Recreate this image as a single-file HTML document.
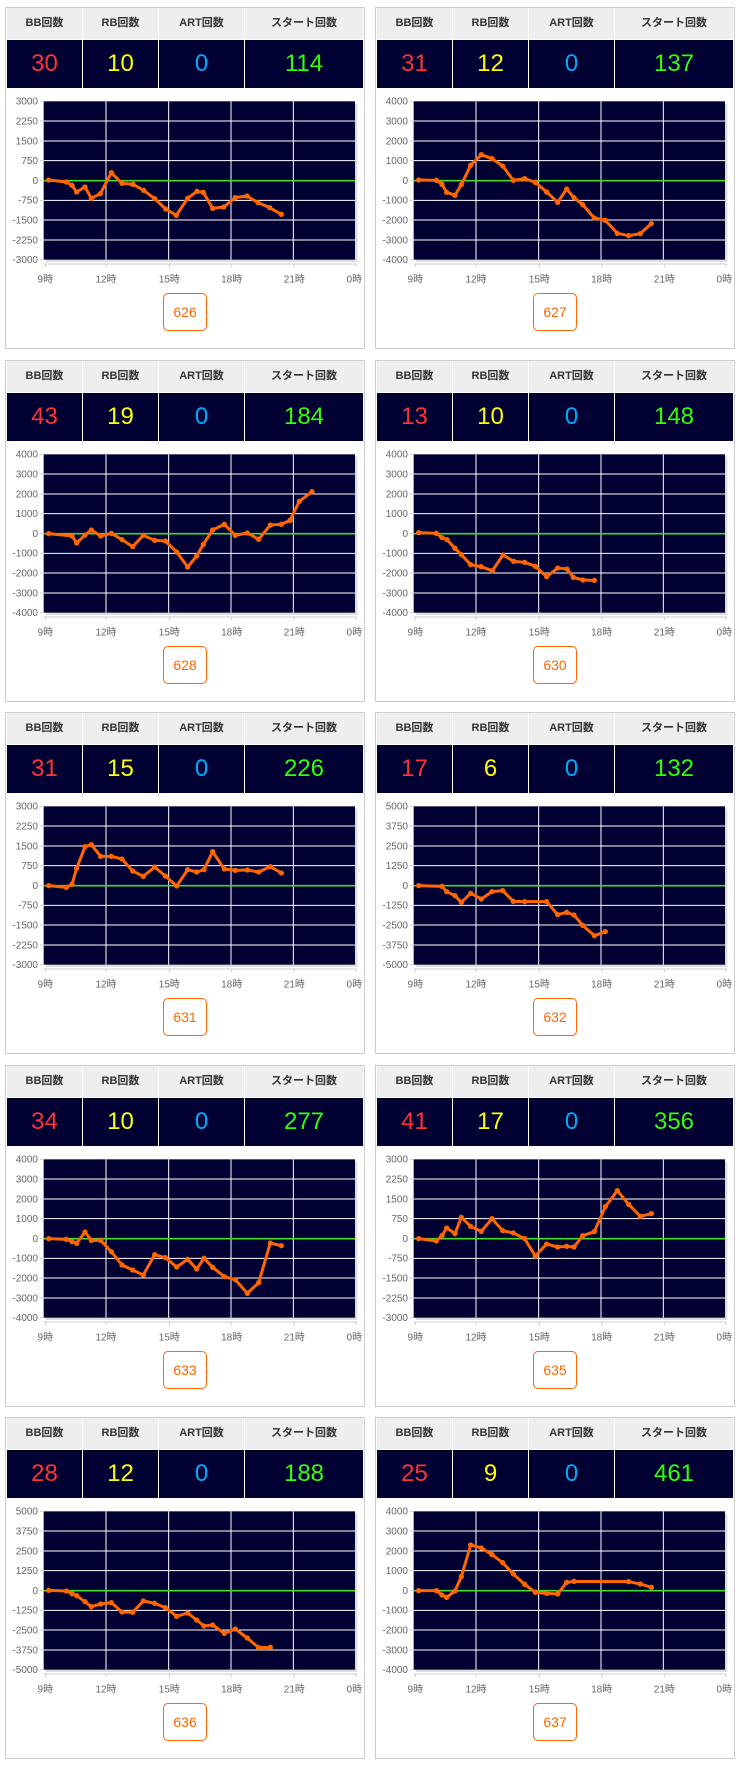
<!DOCTYPE html>
<html><head><meta charset="utf-8">
<style>
body{margin:0;width:740px;height:1770px;background:#fff;position:relative;font-family:"Liberation Sans","Noto Sans CJK JP",sans-serif;overflow:hidden}
.card{position:absolute;width:358px;height:340px;border:1px solid #ccc;background:#fff}
.h,.v{position:absolute;box-sizing:border-box;text-align:center}
.h{top:0;height:31px;line-height:31px;background:#eee;font-size:11px;font-weight:bold;color:#333}
.v{top:32px;height:48px;line-height:48px;background:#000033;font-size:24px}
.c1{left:1px;width:75px}.c2{left:77px;width:75px}.c3{left:153px;width:85px}.c4{left:239px;width:118px}
.r{color:#ff3333}.y{color:#ffff00}.b{color:#00aaff}.g{color:#33ff00}
svg.ch{position:absolute;left:0;top:78px;overflow:visible}
.btn{position:absolute;left:157px;top:285px;width:42px;height:36px;border:1px solid #ff6600;border-radius:5px;color:#ff6600;font-size:14px;line-height:36px;text-align:center}
text{font-family:"Liberation Sans","Noto Sans CJK JP",sans-serif;font-size:30px;fill:#666}
.yl text{text-anchor:end}
.xl text{text-anchor:middle}
.pl{fill:none;stroke:#ff6600;stroke-width:9;stroke-linejoin:round;marker-start:url(#m);marker-mid:url(#m);marker-end:url(#m)}
.gr{stroke:#fff;stroke-width:3;fill:none}
</style></head><body>
<svg width="0" height="0" style="position:absolute"><defs><marker id="m" markerUnits="userSpaceOnUse" markerWidth="20" markerHeight="20" refX="10" refY="10"><circle cx="10" cy="10" r="8" fill="#ff6600"/></marker></defs></svg>

<!-- 626 -->
<div class="card" style="left:5px;top:7px">
<div class="h c1">BB回数</div><div class="h c2">RB回数</div><div class="h c3">ART回数</div><div class="h c4">スタート回数</div>
<div class="v c1 r">30</div><div class="v c2 y">10</div><div class="v c3 b">0</div><div class="v c4 g">114</div>
<svg class="ch" width="360" height="200" viewBox="0 -21 1080 600">
<rect x="120" y="32" width="934" height="475" fill="#ddd"/><rect x="113" y="25" width="934" height="475" fill="#000033"/>
<path class="gr" d="M113 84H1047M113 144H1047M113 203H1047M113 322H1047M113 381H1047M113 441H1047M300 25V500M488 25V500M675 25V500M862 25V500"/>
<line x1="113" y1="263" x2="1047" y2="263" stroke="#44dd22" stroke-width="5"/>
<path d="M113 513H1052M118 513V522M300 513V522M490 513V522M677 513V522M865 513V522M1050 513V522M102 25H110M102 84H110M102 144H110M102 203H110M102 263H110M102 322H110M102 381H110M102 441H110M102 500H110" stroke="#ccc" stroke-width="3"/>
<g class="yl"><text x="96" y="35">3000</text><text x="96" y="94">2250</text><text x="96" y="154">1500</text><text x="96" y="213">750</text><text x="96" y="273">0</text><text x="96" y="332">-750</text><text x="96" y="391">-1500</text><text x="96" y="451">-2250</text><text x="96" y="510">-3000</text></g>
<g class="xl"><text x="118" y="568">9時</text><text x="300" y="568">12時</text><text x="490" y="568">15時</text><text x="677" y="568">18時</text><text x="865" y="568">21時</text><text x="1045" y="568">0時</text></g>
<polyline class="pl" points="128,261 181,267 198,277 212,297 237,282 256,316 283,302 316,239 348,271 381,274 413,292 446,317 479,348 511,367 545,316 573,295 592,298 620,346 653,342 688,314 723,309 756,329 791,344 826,364"/>
</svg>
<div class="btn">626</div></div>

<!-- 627 -->
<div class="card" style="left:375px;top:7px">
<div class="h c1">BB回数</div><div class="h c2">RB回数</div><div class="h c3">ART回数</div><div class="h c4">スタート回数</div>
<div class="v c1 r">31</div><div class="v c2 y">12</div><div class="v c3 b">0</div><div class="v c4 g">137</div>
<svg class="ch" width="360" height="200" viewBox="0 -21 1080 600">
<rect x="120" y="32" width="934" height="475" fill="#ddd"/><rect x="113" y="25" width="934" height="475" fill="#000033"/>
<path class="gr" d="M113 84H1047M113 144H1047M113 203H1047M113 322H1047M113 381H1047M113 441H1047M300 25V500M488 25V500M675 25V500M862 25V500"/>
<line x1="113" y1="263" x2="1047" y2="263" stroke="#44dd22" stroke-width="5"/>
<path d="M113 513H1052M118 513V522M300 513V522M490 513V522M677 513V522M865 513V522M1050 513V522M102 25H110M102 84H110M102 144H110M102 203H110M102 263H110M102 322H110M102 381H110M102 441H110M102 500H110" stroke="#ccc" stroke-width="3"/>
<g class="yl"><text x="96" y="35">4000</text><text x="96" y="94">3000</text><text x="96" y="154">2000</text><text x="96" y="213">1000</text><text x="96" y="273">0</text><text x="96" y="332">-1000</text><text x="96" y="391">-2000</text><text x="96" y="451">-3000</text><text x="96" y="510">-4000</text></g>
<g class="xl"><text x="118" y="568">9時</text><text x="300" y="568">12時</text><text x="490" y="568">15時</text><text x="677" y="568">18時</text><text x="865" y="568">21時</text><text x="1045" y="568">0時</text></g>
<polyline class="pl" points="128,261 181,262 198,274 212,298 237,307 256,275 284,217 316,185 348,197 380,219 412,262 446,257 478,268 512,297 545,328 572,288 594,314 620,335 655,375 688,382 724,421 758,428 793,422 826,392"/>
</svg>
<div class="btn">627</div></div>

<!-- 628 -->
<div class="card" style="left:5px;top:360px">
<div class="h c1">BB回数</div><div class="h c2">RB回数</div><div class="h c3">ART回数</div><div class="h c4">スタート回数</div>
<div class="v c1 r">43</div><div class="v c2 y">19</div><div class="v c3 b">0</div><div class="v c4 g">184</div>
<svg class="ch" width="360" height="200" viewBox="0 -21 1080 600">
<rect x="120" y="32" width="934" height="475" fill="#ddd"/><rect x="113" y="25" width="934" height="475" fill="#000033"/>
<path class="gr" d="M113 84H1047M113 144H1047M113 203H1047M113 322H1047M113 381H1047M113 441H1047M300 25V500M488 25V500M675 25V500M862 25V500"/>
<line x1="113" y1="263" x2="1047" y2="263" stroke="#44dd22" stroke-width="5"/>
<path d="M113 513H1052M118 513V522M300 513V522M490 513V522M677 513V522M865 513V522M1050 513V522M102 25H110M102 84H110M102 144H110M102 203H110M102 263H110M102 322H110M102 381H110M102 441H110M102 500H110" stroke="#ccc" stroke-width="3"/>
<g class="yl"><text x="96" y="35">4000</text><text x="96" y="94">3000</text><text x="96" y="154">2000</text><text x="96" y="213">1000</text><text x="96" y="273">0</text><text x="96" y="332">-1000</text><text x="96" y="391">-2000</text><text x="96" y="451">-3000</text><text x="96" y="510">-4000</text></g>
<g class="xl"><text x="118" y="568">9時</text><text x="300" y="568">12時</text><text x="490" y="568">15時</text><text x="677" y="568">18時</text><text x="865" y="568">21時</text><text x="1045" y="568">0時</text></g>
<polyline class="pl" points="128,263 198,270 212,291 237,267 256,252 284,270 316,262 348,281 380,302 412,268 446,283 478,285 512,318 545,363 572,330 592,295 620,252 655,235 688,268 724,261 758,280 793,237 826,235 852,223 880,166 918,137"/>
</svg>
<div class="btn">628</div></div>

<!-- 630 -->
<div class="card" style="left:375px;top:360px">
<div class="h c1">BB回数</div><div class="h c2">RB回数</div><div class="h c3">ART回数</div><div class="h c4">スタート回数</div>
<div class="v c1 r">13</div><div class="v c2 y">10</div><div class="v c3 b">0</div><div class="v c4 g">148</div>
<svg class="ch" width="360" height="200" viewBox="0 -21 1080 600">
<rect x="120" y="32" width="934" height="475" fill="#ddd"/><rect x="113" y="25" width="934" height="475" fill="#000033"/>
<path class="gr" d="M113 84H1047M113 144H1047M113 203H1047M113 322H1047M113 381H1047M113 441H1047M300 25V500M488 25V500M675 25V500M862 25V500"/>
<line x1="113" y1="263" x2="1047" y2="263" stroke="#44dd22" stroke-width="5"/>
<path d="M113 513H1052M118 513V522M300 513V522M490 513V522M677 513V522M865 513V522M1050 513V522M102 25H110M102 84H110M102 144H110M102 203H110M102 263H110M102 322H110M102 381H110M102 441H110M102 500H110" stroke="#ccc" stroke-width="3"/>
<g class="yl"><text x="96" y="35">4000</text><text x="96" y="94">3000</text><text x="96" y="154">2000</text><text x="96" y="213">1000</text><text x="96" y="273">0</text><text x="96" y="332">-1000</text><text x="96" y="391">-2000</text><text x="96" y="451">-3000</text><text x="96" y="510">-4000</text></g>
<g class="xl"><text x="118" y="568">9時</text><text x="300" y="568">12時</text><text x="490" y="568">15時</text><text x="677" y="568">18時</text><text x="865" y="568">21時</text><text x="1045" y="568">0時</text></g>
<polyline class="pl" points="128,260 181,262 198,275 213,281 237,307 256,326 284,356 315,362 349,374 381,327 413,346 446,349 478,361 512,392 545,366 573,369 592,394 621,402 655,403"/>
</svg>
<div class="btn">630</div></div>

<!-- 631 -->
<div class="card" style="left:5px;top:712px">
<div class="h c1">BB回数</div><div class="h c2">RB回数</div><div class="h c3">ART回数</div><div class="h c4">スタート回数</div>
<div class="v c1 r">31</div><div class="v c2 y">15</div><div class="v c3 b">0</div><div class="v c4 g">226</div>
<svg class="ch" width="360" height="200" viewBox="0 -21 1080 600">
<rect x="120" y="32" width="934" height="475" fill="#ddd"/><rect x="113" y="25" width="934" height="475" fill="#000033"/>
<path class="gr" d="M113 84H1047M113 144H1047M113 203H1047M113 322H1047M113 381H1047M113 441H1047M300 25V500M488 25V500M675 25V500M862 25V500"/>
<line x1="113" y1="263" x2="1047" y2="263" stroke="#44dd22" stroke-width="5"/>
<path d="M113 513H1052M118 513V522M300 513V522M490 513V522M677 513V522M865 513V522M1050 513V522M102 25H110M102 84H110M102 144H110M102 203H110M102 263H110M102 322H110M102 381H110M102 441H110M102 500H110" stroke="#ccc" stroke-width="3"/>
<g class="yl"><text x="96" y="35">3000</text><text x="96" y="94">2250</text><text x="96" y="154">1500</text><text x="96" y="213">750</text><text x="96" y="273">0</text><text x="96" y="332">-750</text><text x="96" y="391">-1500</text><text x="96" y="451">-2250</text><text x="96" y="510">-3000</text></g>
<g class="xl"><text x="118" y="568">9時</text><text x="300" y="568">12時</text><text x="490" y="568">15時</text><text x="677" y="568">18時</text><text x="865" y="568">21時</text><text x="1045" y="568">0時</text></g>
<polyline class="pl" points="128,263 181,268 198,259 212,211 237,146 256,140 284,175 316,175 348,183 380,219 412,235 446,207 478,234 512,264 545,215 572,222 594,215 620,161 655,213 688,217 724,216 758,222 793,206 826,225"/>
</svg>
<div class="btn">631</div></div>

<!-- 632 -->
<div class="card" style="left:375px;top:712px">
<div class="h c1">BB回数</div><div class="h c2">RB回数</div><div class="h c3">ART回数</div><div class="h c4">スタート回数</div>
<div class="v c1 r">17</div><div class="v c2 y">6</div><div class="v c3 b">0</div><div class="v c4 g">132</div>
<svg class="ch" width="360" height="200" viewBox="0 -21 1080 600">
<rect x="120" y="32" width="934" height="475" fill="#ddd"/><rect x="113" y="25" width="934" height="475" fill="#000033"/>
<path class="gr" d="M113 84H1047M113 144H1047M113 203H1047M113 322H1047M113 381H1047M113 441H1047M300 25V500M488 25V500M675 25V500M862 25V500"/>
<line x1="113" y1="263" x2="1047" y2="263" stroke="#44dd22" stroke-width="5"/>
<path d="M113 513H1052M118 513V522M300 513V522M490 513V522M677 513V522M865 513V522M1050 513V522M102 25H110M102 84H110M102 144H110M102 203H110M102 263H110M102 322H110M102 381H110M102 441H110M102 500H110" stroke="#ccc" stroke-width="3"/>
<g class="yl"><text x="96" y="35">5000</text><text x="96" y="94">3750</text><text x="96" y="154">2500</text><text x="96" y="213">1250</text><text x="96" y="273">0</text><text x="96" y="332">-1250</text><text x="96" y="391">-2500</text><text x="96" y="451">-3750</text><text x="96" y="510">-5000</text></g>
<g class="xl"><text x="118" y="568">9時</text><text x="300" y="568">12時</text><text x="490" y="568">15時</text><text x="677" y="568">18時</text><text x="865" y="568">21時</text><text x="1045" y="568">0時</text></g>
<polyline class="pl" points="128,263 198,265 212,281 237,293 256,313 284,286 316,303 348,281 380,278 412,310 446,311 512,311 545,350 572,343 594,351 620,382 655,413 688,401"/>
</svg>
<div class="btn">632</div></div>

<!-- 633 -->
<div class="card" style="left:5px;top:1065px">
<div class="h c1">BB回数</div><div class="h c2">RB回数</div><div class="h c3">ART回数</div><div class="h c4">スタート回数</div>
<div class="v c1 r">34</div><div class="v c2 y">10</div><div class="v c3 b">0</div><div class="v c4 g">277</div>
<svg class="ch" width="360" height="200" viewBox="0 -21 1080 600">
<rect x="120" y="32" width="934" height="475" fill="#ddd"/><rect x="113" y="25" width="934" height="475" fill="#000033"/>
<path class="gr" d="M113 84H1047M113 144H1047M113 203H1047M113 322H1047M113 381H1047M113 441H1047M300 25V500M488 25V500M675 25V500M862 25V500"/>
<line x1="113" y1="263" x2="1047" y2="263" stroke="#44dd22" stroke-width="5"/>
<path d="M113 513H1052M118 513V522M300 513V522M490 513V522M677 513V522M865 513V522M1050 513V522M102 25H110M102 84H110M102 144H110M102 203H110M102 263H110M102 322H110M102 381H110M102 441H110M102 500H110" stroke="#ccc" stroke-width="3"/>
<g class="yl"><text x="96" y="35">4000</text><text x="96" y="94">3000</text><text x="96" y="154">2000</text><text x="96" y="213">1000</text><text x="96" y="273">0</text><text x="96" y="332">-1000</text><text x="96" y="391">-2000</text><text x="96" y="451">-3000</text><text x="96" y="510">-4000</text></g>
<g class="xl"><text x="118" y="568">9時</text><text x="300" y="568">12時</text><text x="490" y="568">15時</text><text x="677" y="568">18時</text><text x="865" y="568">21時</text><text x="1045" y="568">0時</text></g>
<polyline class="pl" points="128,263 181,265 198,272 212,277 237,243 256,268 284,268 316,302 348,342 380,357 412,372 446,311 478,320 512,348 545,325 572,354 594,322 620,349 655,377 688,386 724,427 758,395 793,276 826,284"/>
</svg>
<div class="btn">633</div></div>

<!-- 635 -->
<div class="card" style="left:375px;top:1065px">
<div class="h c1">BB回数</div><div class="h c2">RB回数</div><div class="h c3">ART回数</div><div class="h c4">スタート回数</div>
<div class="v c1 r">41</div><div class="v c2 y">17</div><div class="v c3 b">0</div><div class="v c4 g">356</div>
<svg class="ch" width="360" height="200" viewBox="0 -21 1080 600">
<rect x="120" y="32" width="934" height="475" fill="#ddd"/><rect x="113" y="25" width="934" height="475" fill="#000033"/>
<path class="gr" d="M113 84H1047M113 144H1047M113 203H1047M113 322H1047M113 381H1047M113 441H1047M300 25V500M488 25V500M675 25V500M862 25V500"/>
<line x1="113" y1="263" x2="1047" y2="263" stroke="#44dd22" stroke-width="5"/>
<path d="M113 513H1052M118 513V522M300 513V522M490 513V522M677 513V522M865 513V522M1050 513V522M102 25H110M102 84H110M102 144H110M102 203H110M102 263H110M102 322H110M102 381H110M102 441H110M102 500H110" stroke="#ccc" stroke-width="3"/>
<g class="yl"><text x="96" y="35">3000</text><text x="96" y="94">2250</text><text x="96" y="154">1500</text><text x="96" y="213">750</text><text x="96" y="273">0</text><text x="96" y="332">-750</text><text x="96" y="391">-1500</text><text x="96" y="451">-2250</text><text x="96" y="510">-3000</text></g>
<g class="xl"><text x="118" y="568">9時</text><text x="300" y="568">12時</text><text x="490" y="568">15時</text><text x="677" y="568">18時</text><text x="865" y="568">21時</text><text x="1045" y="568">0時</text></g>
<polyline class="pl" points="128,263 181,270 198,254 212,231 237,248 256,199 284,226 316,241 348,203 380,239 412,246 446,263 478,315 512,279 545,288 572,286 594,288 620,254 655,242 688,167 724,119 758,160 793,196 826,188"/>
</svg>
<div class="btn">635</div></div>

<!-- 636 -->
<div class="card" style="left:5px;top:1417px">
<div class="h c1">BB回数</div><div class="h c2">RB回数</div><div class="h c3">ART回数</div><div class="h c4">スタート回数</div>
<div class="v c1 r">28</div><div class="v c2 y">12</div><div class="v c3 b">0</div><div class="v c4 g">188</div>
<svg class="ch" width="360" height="200" viewBox="0 -21 1080 600">
<rect x="120" y="32" width="934" height="475" fill="#ddd"/><rect x="113" y="25" width="934" height="475" fill="#000033"/>
<path class="gr" d="M113 84H1047M113 144H1047M113 203H1047M113 322H1047M113 381H1047M113 441H1047M300 25V500M488 25V500M675 25V500M862 25V500"/>
<line x1="113" y1="263" x2="1047" y2="263" stroke="#44dd22" stroke-width="5"/>
<path d="M113 513H1052M118 513V522M300 513V522M490 513V522M677 513V522M865 513V522M1050 513V522M102 25H110M102 84H110M102 144H110M102 203H110M102 263H110M102 322H110M102 381H110M102 441H110M102 500H110" stroke="#ccc" stroke-width="3"/>
<g class="yl"><text x="96" y="35">5000</text><text x="96" y="94">3750</text><text x="96" y="154">2500</text><text x="96" y="213">1250</text><text x="96" y="273">0</text><text x="96" y="332">-1250</text><text x="96" y="391">-2500</text><text x="96" y="451">-3750</text><text x="96" y="510">-5000</text></g>
<g class="xl"><text x="118" y="568">9時</text><text x="300" y="568">12時</text><text x="490" y="568">15時</text><text x="677" y="568">18時</text><text x="865" y="568">21時</text><text x="1045" y="568">0時</text></g>
<polyline class="pl" points="128,262 181,264 198,272 212,278 237,296 256,311 284,303 316,299 348,327 380,328 412,294 446,301 478,314 512,340 545,330 572,351 594,369 620,366 655,391 688,378 724,405 758,434 793,433"/>
</svg>
<div class="btn">636</div></div>

<!-- 637 -->
<div class="card" style="left:375px;top:1417px">
<div class="h c1">BB回数</div><div class="h c2">RB回数</div><div class="h c3">ART回数</div><div class="h c4">スタート回数</div>
<div class="v c1 r">25</div><div class="v c2 y">9</div><div class="v c3 b">0</div><div class="v c4 g">461</div>
<svg class="ch" width="360" height="200" viewBox="0 -21 1080 600">
<rect x="120" y="32" width="934" height="475" fill="#ddd"/><rect x="113" y="25" width="934" height="475" fill="#000033"/>
<path class="gr" d="M113 84H1047M113 144H1047M113 203H1047M113 322H1047M113 381H1047M113 441H1047M300 25V500M488 25V500M675 25V500M862 25V500"/>
<line x1="113" y1="263" x2="1047" y2="263" stroke="#44dd22" stroke-width="5"/>
<path d="M113 513H1052M118 513V522M300 513V522M490 513V522M677 513V522M865 513V522M1050 513V522M102 25H110M102 84H110M102 144H110M102 203H110M102 263H110M102 322H110M102 381H110M102 441H110M102 500H110" stroke="#ccc" stroke-width="3"/>
<g class="yl"><text x="96" y="35">4000</text><text x="96" y="94">3000</text><text x="96" y="154">2000</text><text x="96" y="213">1000</text><text x="96" y="273">0</text><text x="96" y="332">-1000</text><text x="96" y="391">-2000</text><text x="96" y="451">-3000</text><text x="96" y="510">-4000</text></g>
<g class="xl"><text x="118" y="568">9時</text><text x="300" y="568">12時</text><text x="490" y="568">15時</text><text x="677" y="568">18時</text><text x="865" y="568">21時</text><text x="1045" y="568">0時</text></g>
<polyline class="pl" points="128,263 181,263 198,276 212,283 237,264 256,221 284,126 316,135 348,155 380,179 412,213 446,244 478,268 512,271 545,273 572,238 594,235 758,236 793,243 826,253"/>
</svg>
<div class="btn">637</div></div>

</body></html>
